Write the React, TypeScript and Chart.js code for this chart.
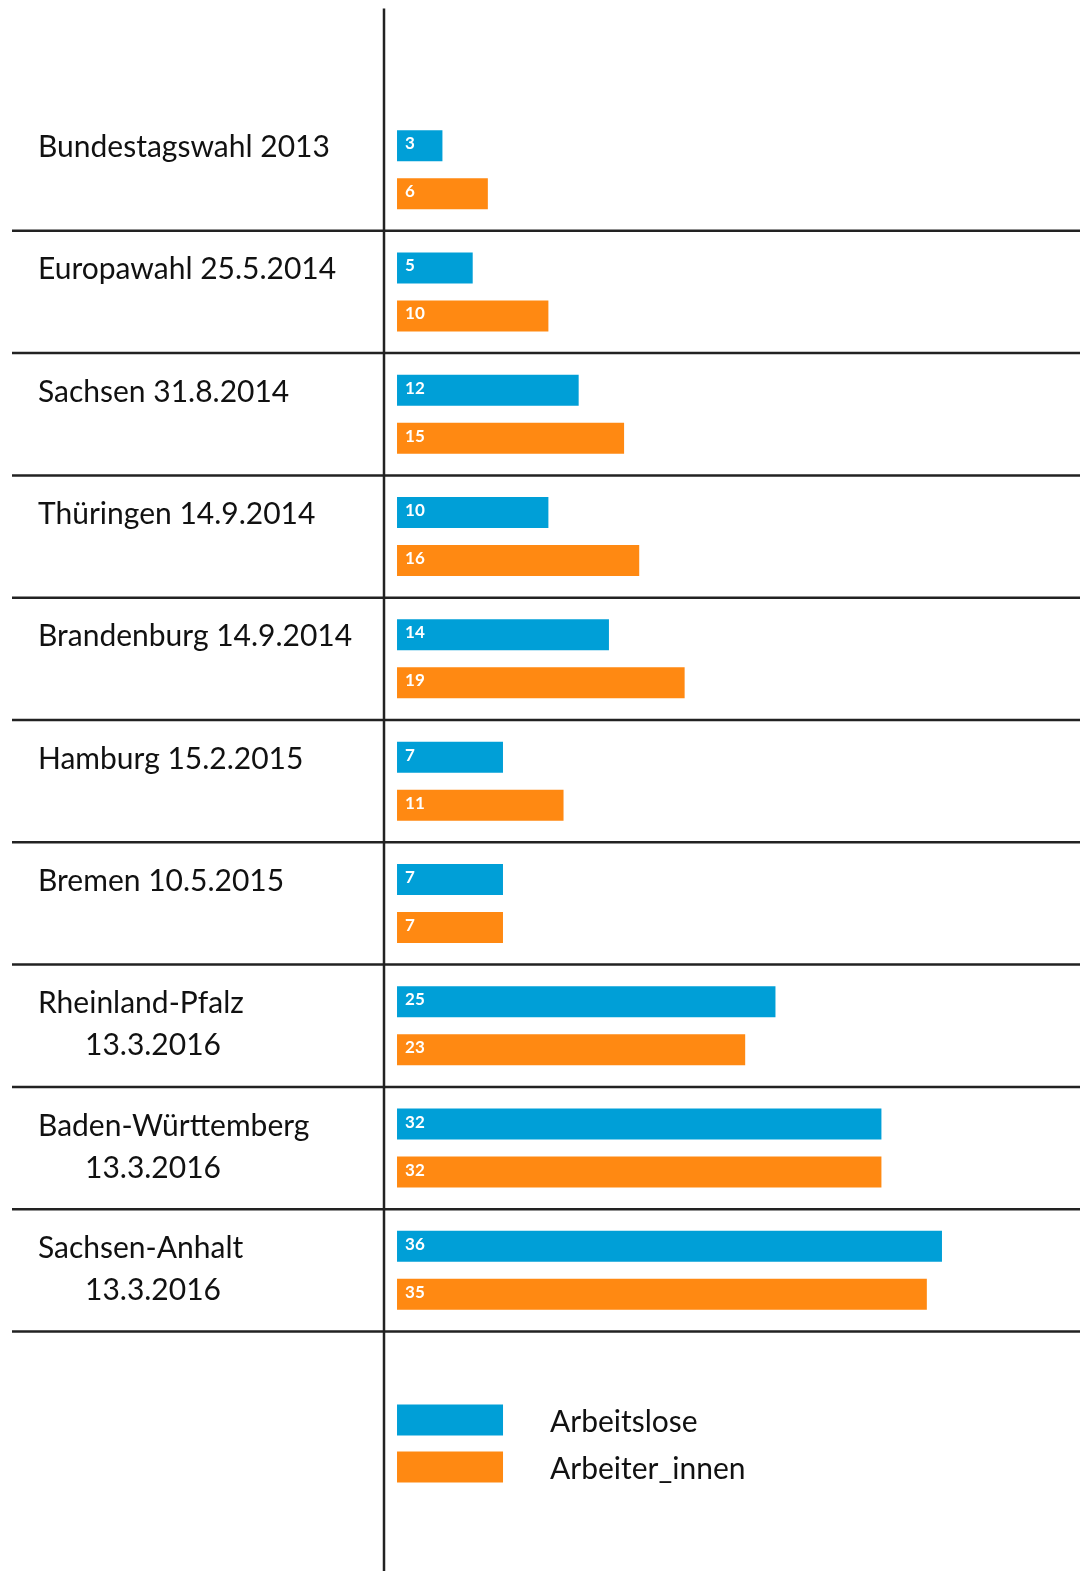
import React, { useEffect, useRef } from "react";
import { Chart, registerables } from "chart.js";

Chart.register(...registerables);

const categories: string[][] = [
  ["Bundestagswahl 2013"],
  ["Europawahl 25.5.2014"],
  ["Sachsen 31.8.2014"],
  ["Thüringen 14.9.2014"],
  ["Brandenburg 14.9.2014"],
  ["Hamburg 15.2.2015"],
  ["Bremen 10.5.2015"],
  ["Rheinland-Pfalz", "13.3.2016"],
  ["Baden-Württemberg", "13.3.2016"],
  ["Sachsen-Anhalt", "13.3.2016"],
];

const seriesNames = ["Arbeitslose", "Arbeiter_innen"];
const arbeitslose = [3, 5, 12, 10, 14, 7, 7, 25, 32, 36];
const arbeiterInnen = [6, 10, 15, 16, 19, 11, 7, 23, 32, 35];

const BLUE = "#009fd7";
const ORANGE = "#ff8912";
const LINE = "#222222";
const FONT = "Lato";

const W = 1082;
const H = 1571;

const decorPlugin = {
  id: "decor",
  afterDraw(chart: any) {
    const ctx = chart.ctx as CanvasRenderingContext2D;
    const { chartArea } = chart;
    const y = chart.scales.y;
    const n = categories.length;
    const band = y.getPixelForValue(1) - y.getPixelForValue(0);

    ctx.save();
    // separators
    ctx.strokeStyle = LINE;
    ctx.lineWidth = 2.5;
    for (let i = 0; i < n; i++) {
      const yy = y.getPixelForValue(i) + band / 2;
      ctx.beginPath();
      ctx.moveTo(12, yy);
      ctx.lineTo(chart.width - 2, yy);
      ctx.stroke();
    }
    // vertical axis line
    ctx.lineWidth = 2.5;
    ctx.beginPath();
    ctx.moveTo(chartArea.left, 8.5);
    ctx.lineTo(chartArea.left, chart.height);
    ctx.stroke();

    // category labels aligned with first bar of each group
    const meta0 = chart.getDatasetMeta(0);
    ctx.fillStyle = "#111111";
    ctx.font = `30px ${FONT}`;
    ctx.textAlign = "left";
    ctx.textBaseline = "alphabetic";
    for (let i = 0; i < n; i++) {
      const by = meta0.data[i].y;
      categories[i].forEach((line, j) => {
        ctx.fillText(line, j === 0 ? 38 : 85, by + 11.5 + j * 42);
      });
    }

    // value labels
    ctx.font = `bold 17px ${FONT}`;
    ctx.fillStyle = "#ffffff";
    ctx.textBaseline = "middle";
    chart.data.datasets.forEach((ds: any, d: number) => {
      const meta = chart.getDatasetMeta(d);
      meta.data.forEach((bar: any, i: number) => {
        ctx.fillText(String(ds.data[i]), bar.base + 8, bar.y - 2);
      });
    });

    // legend
    const lx = chart.scales.x.getPixelForValue(0);
    chart.data.datasets.forEach((ds: any, d: number) => {
      const top = chartArea.bottom + 73 + d * 47;
      ctx.fillStyle = ds.backgroundColor;
      ctx.fillRect(lx, top, 106, 31);
      ctx.fillStyle = "#111111";
      ctx.font = `30px ${FONT}`;
      ctx.textBaseline = "alphabetic";
      ctx.fillText(ds.label, 550, top + 27);
    });
    ctx.restore();
  },
};

export default function App() {
  const ref = useRef<HTMLCanvasElement | null>(null);
  useEffect(() => {
    if (!ref.current) return;
    const chart = new Chart(ref.current, {
      type: "bar",
      data: {
        labels: categories.map((c) => c.join(" ")),
        datasets: [
          { label: seriesNames[0], data: arbeitslose, backgroundColor: BLUE },
          { label: seriesNames[1], data: arbeiterInnen, backgroundColor: ORANGE },
        ],
      },
      options: {
        indexAxis: "y",
        responsive: false,
        animation: false,
        devicePixelRatio: 1,
        layout: { padding: { left: 384, top: 108.5, right: 0, bottom: 239.5 } },
        categoryPercentage: 0.785,
        barPercentage: 0.645,
        scales: {
          x: { display: false, min: -0.86, max: 45.25 },
          y: { display: false },
        },
        plugins: { legend: { display: false }, tooltip: { enabled: false } },
      } as any,
      plugins: [decorPlugin],
    });
    return () => chart.destroy();
  }, []);
  return (
    <div style={{ position: "absolute", left: 0, top: 0, width: W, height: H, background: "#fff" }}>
      <canvas ref={ref} width={W} height={H} style={{ display: "block" }} />
    </div>
  );
}
